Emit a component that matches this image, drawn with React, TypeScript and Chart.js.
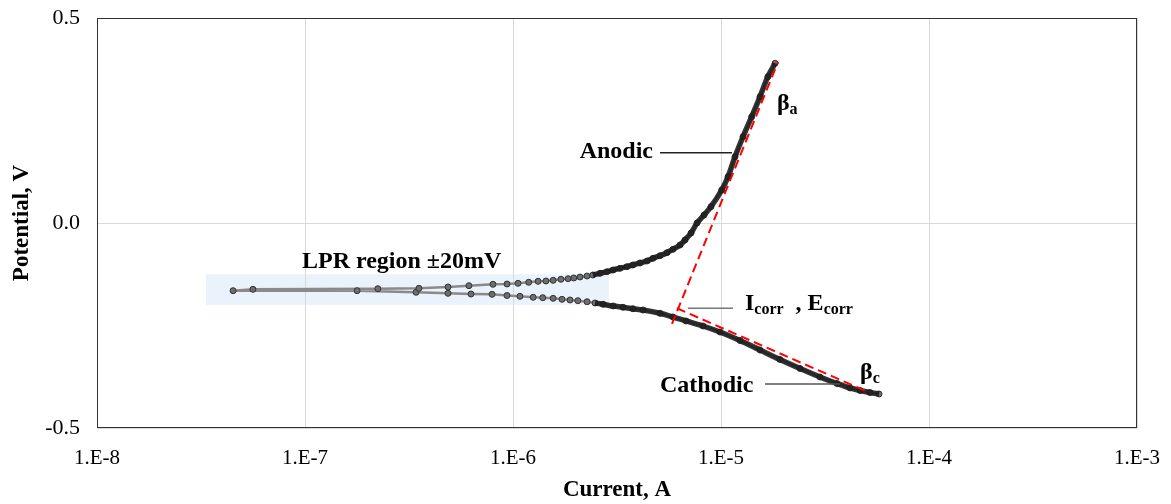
import React, { useEffect, useRef } from 'react';
import { Chart, registerables } from 'chart.js';

Chart.register(...registerables);

// Cathodic branch, read from the right end toward low currents (A, V)
const cathodicCurrent = [5.75e-5, 5.2e-5, 4.66e-5, 4.17e-5, 3.61e-5, 2.99e-5, 2.4e-5, 1.92e-5, 1.54e-5, 1.234e-5, 9.89e-6, 8.19e-6, 6.79e-6, 5.88e-6, 5.09e-6, 4.22e-6, 3.77e-6, 3.38e-6, 3.03e-6, 2.71e-6, 2.48e-6, 2.27e-6, 2.05e-6, 1.88e-6, 1.72e-6, 1.56e-6, 1.39e-6, 1.25e-6, 1.08e-6, 9.36e-7, 7.93e-7, 6.28e-7, 4.87e-7, 3.42e-7, 1.78e-7, 4.51e-8];
const cathodicPotential = [-0.417, -0.4134, -0.4085, -0.4024, -0.3915, -0.3756, -0.3549, -0.3329, -0.3098, -0.2866, -0.2659, -0.2512, -0.239, -0.2293, -0.2202, -0.2122, -0.209, -0.2056, -0.2024, -0.1983, -0.1951, -0.192, -0.1895, -0.1878, -0.1861, -0.1837, -0.1822, -0.1812, -0.1788, -0.1768, -0.1739, -0.1732, -0.1715, -0.169, -0.1651, -0.1651];

// Anodic branch, from low currents up to the top end
const anodicCurrent = [5.62e-8, 2.24e-7, 3.53e-7, 4.87e-7, 6.14e-7, 8.01e-7, 9.36e-7, 1.057e-6, 1.19e-6, 1.32e-6, 1.44e-6, 1.56e-6, 1.7e-6, 1.84e-6, 1.96e-6, 2.1e-6, 2.27e-6, 2.42e-6, 2.62e-6, 2.83e-6, 3.03e-6, 3.27e-6, 3.53e-6, 3.77e-6, 4.08e-6, 4.41e-6, 4.71e-6, 5.09e-6, 5.5e-6, 5.88e-6, 6.35e-6, 6.71e-6, 7.18e-6, 7.67e-6, 8.29e-6, 8.95e-6, 1.008e-5, 1.081e-5, 1.168e-5, 1.276e-5, 1.405e-5, 1.54e-5, 1.68e-5, 1.82e-5];
const anodicPotential = [-0.1617, -0.1602, -0.1593, -0.1561, -0.1529, -0.1495, -0.1488, -0.1471, -0.1446, -0.1422, -0.1415, -0.1398, -0.1373, -0.1359, -0.1341, -0.1317, -0.1293, -0.1268, -0.1227, -0.1188, -0.1146, -0.1105, -0.1066, -0.1024, -0.0976, -0.0927, -0.0861, -0.0798, -0.0724, -0.0641, -0.0537, -0.0415, -0.0244, 0.0, 0.0195, 0.0398, 0.0805, 0.1129, 0.1617, 0.2105, 0.2593, 0.308, 0.3568, 0.3895];

// Tafel extrapolation lines
const anodicTafelCurrent = [5.81e-6, 1.88e-5];
const anodicTafelPotential = [-0.2463, 0.3927];
const cathodicTafelCurrent = [6.14e-6, 5.09e-5];
const cathodicTafelPotential = [-0.208, -0.4122];

// LPR shaded region
const lprCurrent = [3.34e-8, 2.89e-6];
const lprPotential = [-0.125, -0.2];

// Axis ticks
const xTickValues = [1e-8, 1e-7, 1e-6, 1e-5, 1e-4, 1e-3];
const xTickLabels = ['1.E-8', '1.E-7', '1.E-6', '1.E-5', '1.E-4', '1.E-3'];
const yTickValues = [-0.5, 0, 0.5];
const yTickLabels = ['-0.5', '0.0', '0.5'];

// Dense-scan threshold (A) above which the points merge into a solid band
const denseThreshold = 2.4e-6;

const FONT = '"Liberation Serif", "Times New Roman", serif';

function drawParts(ctx: CanvasRenderingContext2D, x: number, y: number, parts: [string, string][]) {
  let cx = x;
  for (const [main, sub] of parts) {
    ctx.font = `bold 24px ${FONT}`;
    ctx.fillText(main, cx, y);
    cx += ctx.measureText(main).width;
    if (sub) {
      ctx.font = `bold 16px ${FONT}`;
      ctx.fillText(sub, cx, y + 4);
      cx += ctx.measureText(sub).width;
    }
  }
}

const zeroPadding = (s: any) => {
  s.paddingTop = 0;
  s.paddingBottom = 0;
  s.paddingLeft = 0;
  s.paddingRight = 0;
};

const overlayPlugin = {
  id: 'overlay',
  beforeDraw(chart: any) {
    const { ctx, scales } = chart;
    const xs = scales.x, ys = scales.y;
    const x0 = xs.getPixelForValue(lprCurrent[0]);
    const x1 = xs.getPixelForValue(lprCurrent[1]);
    const y0 = ys.getPixelForValue(lprPotential[0]);
    const y1 = ys.getPixelForValue(lprPotential[1]);
    ctx.save();
    ctx.fillStyle = '#eaf2fb';
    ctx.fillRect(x0, y0, x1 - x0, y1 - y0);
    ctx.restore();
  },
  afterDatasetsDraw(chart: any) {
    const { ctx, scales } = chart;
    const X = (v: number) => scales.x.getPixelForValue(v);
    const Y = (v: number) => scales.y.getPixelForValue(v);
    ctx.save();
    const leader = (xa: number, xb: number, yv: number, color: string) => {
      ctx.beginPath();
      ctx.strokeStyle = color;
      ctx.lineWidth = 1.5;
      ctx.moveTo(X(xa), Y(yv));
      ctx.lineTo(X(xb), Y(yv));
      ctx.stroke();
    };
    leader(5.09e-6, 1.13e-5, 0.1715, '#222');
    leader(6.94e-6, 1.142e-5, -0.208, '#777');
    leader(1.627e-5, 3.73e-5, -0.3927, '#555');

    ctx.fillStyle = '#000';
    ctx.textBaseline = 'alphabetic';
    ctx.textAlign = 'right';
    ctx.font = `bold 24px ${FONT}`;
    ctx.fillText('Anodic', X(4.71e-6), Y(0.1585));
    ctx.textAlign = 'left';
    ctx.fillText('LPR region \u00B120mV', X(9.67e-8), Y(-0.1098));
    ctx.fillText('Cathodic', X(5.09e-6), Y(-0.4115));
    drawParts(ctx, X(1.304e-5), Y(-0.2122), [['I', 'corr'], ['  , E', 'corr']]);
    drawParts(ctx, X(1.858e-5), Y(0.2756), [['\u03B2', 'a']]);
    drawParts(ctx, X(4.66e-5), Y(-0.3798), [['\u03B2', 'c']]);
    ctx.restore();
  },
  afterDraw(chart: any) {
    const { ctx, chartArea } = chart;
    ctx.save();
    ctx.strokeStyle = '#333';
    ctx.lineWidth = 1;
    ctx.strokeRect(Math.round(chartArea.left) + 0.5, Math.round(chartArea.top) + 0.5,
      Math.round(chartArea.right - chartArea.left) - 1, Math.round(chartArea.bottom - chartArea.top) - 1);
    ctx.restore();
  },
};

export default function App() {
  const ref = useRef<HTMLCanvasElement>(null);
  useEffect(() => {
    document.body.style.margin = '0';
    const canvas = ref.current!;
    const curveX = [...cathodicCurrent, ...anodicCurrent];
    const curveY = [...cathodicPotential, ...anodicPotential];
    const curve = curveX.map((x, i) => ({ x, y: curveY[i] }));
    const band = curve.map((p) => ({ x: p.x, y: p.x > denseThreshold ? p.y : null }));
    const anodicTafel = anodicTafelCurrent.map((x, i) => ({ x, y: anodicTafelPotential[i] }));
    const cathodicTafel = cathodicTafelCurrent.map((x, i) => ({ x, y: cathodicTafelPotential[i] }));

    Chart.defaults.font.family = FONT;

    const chart = new Chart(canvas, {
      type: 'scatter',
      data: {
        datasets: [
          {
            data: curve as any,
            showLine: true,
            borderColor: '#8a8a8a',
            borderWidth: 2.5,
            pointRadius: 3,
            pointBackgroundColor: '#6e6e6e',
            pointBorderColor: '#333',
            pointBorderWidth: 1,
            order: 2,
          },
          {
            data: band as any,
            showLine: true,
            spanGaps: false,
            borderColor: 'rgba(25,25,25,0.88)',
            borderWidth: 5.5,
            cubicInterpolationMode: 'monotone',
            pointRadius: 0,
            order: 1,
          },
          {
            data: anodicTafel as any,
            showLine: true,
            borderColor: '#ff0000',
            borderWidth: 2,
            borderDash: [9, 5],
            pointRadius: 0,
            order: 0,
          },
          {
            data: cathodicTafel as any,
            showLine: true,
            borderColor: '#ff0000',
            borderWidth: 2,
            borderDash: [9, 5],
            pointRadius: 0,
            order: 0,
          },
        ],
      },
      options: {
        responsive: false,
        animation: false,
        events: [],
        layout: { autoPadding: false, padding: { top: 18, right: 34, left: 0, bottom: 0 } },
        plugins: { legend: { display: false }, tooltip: { enabled: false } },
        scales: {
          x: {
            type: 'logarithmic',
            min: 1e-8,
            max: 1e-3,
            afterBuildTicks: (s: any) => {
              s.ticks = xTickValues.map((value) => ({ value }));
            },
            afterFit: (s: any) => {
              s.height = 76;
              zeroPadding(s);
            },
            ticks: {
              callback: (_v: any, i: number) => xTickLabels[i],
              font: { size: 21 },
              color: '#000',
              padding: 18,
              autoSkip: false,
              maxRotation: 0,
            },
            grid: { color: '#d9d9d9', drawTicks: false, lineWidth: 1 },
            border: { display: false },
            title: {
              display: true,
              text: 'Current, A',
              font: { size: 23, weight: 'bold' },
              color: '#000',
              padding: { top: 0, bottom: 0 },
            },
          },
          y: {
            type: 'linear',
            min: -0.5,
            max: 0.5,
            afterBuildTicks: (s: any) => {
              s.ticks = yTickValues.map((value) => ({ value }));
            },
            afterFit: (s: any) => {
              s.width = 97;
              zeroPadding(s);
            },
            ticks: {
              callback: (_v: any, i: number) => yTickLabels[i],
              font: { size: 22 },
              color: '#000',
              padding: 17,
            },
            grid: { color: '#d9d9d9', drawTicks: false, lineWidth: 1 },
            border: { display: false },
            title: {
              display: true,
              text: 'Potential, V',
              font: { size: 23, weight: 'bold' },
              color: '#000',
              padding: { top: 8, bottom: 0 },
            },
          },
        },
      } as any,
      plugins: [overlayPlugin],
    });
    return () => chart.destroy();
  }, []);

  return (
    <div style={{ position: 'absolute', left: 0, top: 0, width: 1171, height: 504, background: '#fff' }}>
      <canvas ref={ref} width={1171} height={504} style={{ display: 'block' }} />
    </div>
  );
}
